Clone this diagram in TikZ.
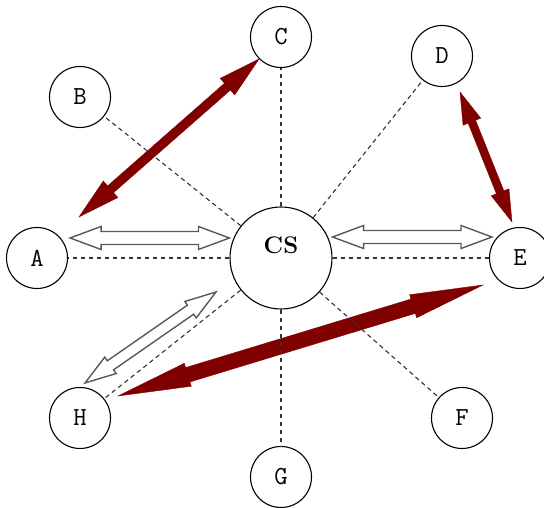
\documentclass[tikz,border=0pt]{standalone}
\usetikzlibrary{calc}

\definecolor{linkred}{RGB}{128,0,0}

% block arrow with a head at both ends:
% style, from, to, head length, half head width, half shaft width
\newcommand{\blockarrow}[6]{%
  \draw[#1] (#2)
    -- ($($(#2)!#4!(#3)$)!#5!90:(#3)$)
    -- ($($(#2)!#4!(#3)$)!#6!90:(#3)$)
    -- ($($(#3)!#4!(#2)$)!#6!-90:(#2)$)
    -- ($($(#3)!#4!(#2)$)!#5!-90:(#2)$)
    -- (#3)
    -- ($($(#3)!#4!(#2)$)!#5!90:(#2)$)
    -- ($($(#3)!#4!(#2)$)!#6!90:(#2)$)
    -- ($($(#2)!#4!(#3)$)!#6!-90:(#3)$)
    -- ($($(#2)!#4!(#3)$)!#5!-90:(#3)$)
    -- cycle;}

\begin{document}
\begin{tikzpicture}[x=1pt, y=1pt,
  site/.style={circle, draw, fill=white, line width=1.1pt, minimum size=61pt, inner sep=0pt,
    font=\fontsize{26}{26}\selectfont\ttfamily},
  hub/.style={circle, draw, fill=white, line width=1.1pt, minimum size=102pt, inner sep=0pt,
    text height=16pt, text depth=24pt, font=\fontsize{24}{24}\selectfont\bfseries},
  spoke/.style={black!80, line width=1.1pt, dash pattern=on 4.5pt off 3.5pt},
  heavy/.style={fill=linkred, draw=linkred, line width=0.4pt},
  hollow/.style={fill=white, draw=black!65, line width=1.4pt}]
        \useasboundingbox (0,0) rectangle (544,508);

        % server in the middle, clients round it
        \node[hub] (CS) at (281,250) {CS};
        \node[site] (A) at (37,250) {A};
        \node[site] (B) at (80,411) {B};
        \node[site] (C) at (281,471) {C};
        \node[site] (D) at (442,452) {D};
        \node[site] (E) at (520,250) {E};
        \node[site] (F) at (462,90) {F};
        \node[site] (G) at (281,31) {G};
        \node[site] (H) at (80,90) {H};

        % arrow ends
        \coordinate (ca1) at (C.225);
        \coordinate (ca2) at ($(A)+(42,41)$);
        \coordinate (de1) at ($(D)+(18,-36)$);
        \coordinate (de2) at ($(E)+(-8,36)$);
        \coordinate (he1) at ($(H)+(38,22)$);
        \coordinate (he2) at ($(E)+(-37,-27)$);
        \coordinate (ac1) at ([xshift=2pt,yshift=20pt]A.east);
        \coordinate (ac2) at ([yshift=20pt]CS.west);
        \coordinate (ce1) at ([yshift=21pt]CS.east);
        \coordinate (ce2) at ([xshift=3pt,yshift=21pt]E.west);
        \coordinate (hc1) at ($(H)+(5,35)$);
        \coordinate (hc2) at ($(CS)+(-65,-34)$);

        % direct links
        \blockarrow{heavy}{ca1}{ca2}{42pt}{11pt}{4.5pt}
        \blockarrow{heavy}{de1}{de2}{32pt}{9.5pt}{4pt}
        \blockarrow{heavy}{he1}{he2}{73pt}{12pt}{7.5pt}

        % links through the server
        \blockarrow{hollow}{ac1}{ac2}{31pt}{11.5pt}{6.5pt}
        \blockarrow{hollow}{ce1}{ce2}{31pt}{11.5pt}{6.5pt}
        \blockarrow{hollow}{hc1}{hc2}{31pt}{10pt}{5.5pt}

        \foreach \n in {A,B,C,D,E,F,G,H}
          \draw[spoke] (CS) -- (\n);
\end{tikzpicture}
\end{document}
